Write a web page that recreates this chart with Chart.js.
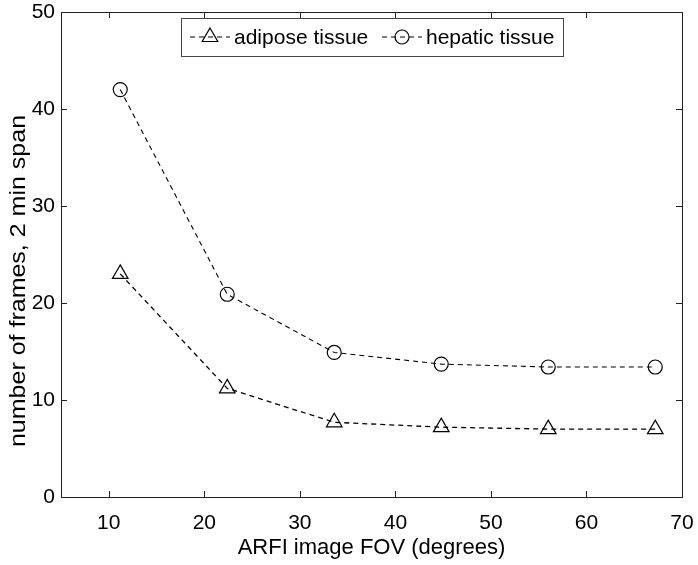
<!DOCTYPE html>
<html>
<head>
<meta charset="utf-8">
<script src="https://cdn.jsdelivr.net/npm/chart.js@4.4.0/dist/chart.umd.min.js"></script>
<style>
  html, body { margin: 0; padding: 0; background: #fff; }
  #wrap { width: 698px; height: 565px; }
</style>
</head>
<body>
<div id="wrap"><canvas id="fovChart" width="698" height="565"></canvas></div>
<script>
// values
var fovDegrees = [11.2, 22.4, 33.6, 44.8, 56.0, 67.2];
var adiposeFrames = [23.0, 11.2, 7.7, 7.2, 7.0, 7.0];
var hepaticFrames = [42.0, 20.9, 14.9, 13.7, 13.4, 13.4];
var seriesNames = ['adipose tissue', 'hepatic tissue'];
var xTicks = [10, 20, 30, 40, 50, 60, 70];
var yTicks = [0, 10, 20, 30, 40, 50];
var xTitle = 'ARFI image FOV (degrees)';
var yTitle = 'number of frames, 2 min span';

var FONT = 'Liberation Sans, Arial, Helvetica, sans-serif';

function toPoints(xs, ys) {
  var pts = [];
  for (var i = 0; i < xs.length; i++) pts.push({x: xs[i], y: ys[i]});
  return pts;
}

// matlab style box with inward ticks, y label and legend inside the axes
var matlabFrame = {
  id: 'matlabFrame',
  afterDatasetsDraw: function(chart) {
    var ctx = chart.ctx, a = chart.chartArea;
    var xs = chart.scales.x, ys = chart.scales.y;
    ctx.save();
    ctx.strokeStyle = '#222';
    ctx.lineWidth = 1;
    ctx.strokeRect(a.left + 0.5, a.top + 0.5, a.right - a.left, a.bottom - a.top);
    var t = 6;
    ctx.beginPath();
    xTicks.forEach(function(v) {
      var px = Math.round(xs.getPixelForValue(v)) + 0.5;
      ctx.moveTo(px, a.bottom); ctx.lineTo(px, a.bottom - t);
      ctx.moveTo(px, a.top); ctx.lineTo(px, a.top + t);
    });
    yTicks.forEach(function(v) {
      var py = Math.round(ys.getPixelForValue(v)) + 0.5;
      ctx.moveTo(a.left, py); ctx.lineTo(a.left + t, py);
      ctx.moveTo(a.right, py); ctx.lineTo(a.right - t, py);
    });
    ctx.stroke();

    // y label (figure is a bit stretched vertically, so squash the thickness)
    ctx.save();
    ctx.translate(19, 281);
    ctx.rotate(-Math.PI / 2);
    ctx.scale(1, 0.87);
    ctx.fillStyle = '#000';
    ctx.font = '25px ' + FONT;
    ctx.textAlign = 'center';
    ctx.textBaseline = 'middle';
    ctx.fillText(yTitle, 0, 0);
    ctx.restore();

    // legend
    var bx = 181, by = 18, bw = 382, bh = 38;
    ctx.fillStyle = '#fff';
    ctx.fillRect(bx, by, bw, bh);
    ctx.strokeStyle = '#444';
    ctx.strokeRect(bx + 0.5, by + 0.5, bw, bh);
    ctx.font = '21px ' + FONT;
    ctx.textBaseline = 'middle';
    var cy = by + bh / 2;
    var starts = [190, 382];
    chart.data.datasets.forEach(function(ds, i) {
      var sx = starts[i];
      ctx.strokeStyle = '#000';
      ctx.lineWidth = 1.2;
      ctx.setLineDash([5, 4]);
      ctx.beginPath();
      ctx.moveTo(sx, cy); ctx.lineTo(sx + 40, cy);
      ctx.stroke();
      ctx.setLineDash([]);
      ctx.fillStyle = 'rgba(255,255,255,0)';
      Chart.helpers.drawPoint(ctx, {
        pointStyle: ds.pointStyle, radius: ds.pointRadius, borderWidth: 1.2
      }, sx + 20, cy);
      ctx.fillStyle = '#000';
      ctx.fillText(ds.label, sx + 44, cy + 1);
    });
    ctx.restore();
  }
};

new Chart(document.getElementById('fovChart'), {
  type: 'line',
  data: {
    datasets: [{
      label: seriesNames[0],
      data: toPoints(fovDegrees, adiposeFrames),
      borderColor: '#000',
      borderWidth: 1.3,
      borderDash: [5, 4],
      pointStyle: 'triangle',
      pointRadius: 9,
      pointBorderWidth: 1.2,
      pointBorderColor: '#000',
      pointBackgroundColor: 'rgba(255,255,255,0)',
      tension: 0
    }, {
      label: seriesNames[1],
      data: toPoints(fovDegrees, hepaticFrames),
      borderColor: '#000',
      borderWidth: 1.1,
      borderDash: [5, 4],
      pointStyle: 'circle',
      pointRadius: 7,
      pointBorderWidth: 1.2,
      pointBorderColor: '#000',
      pointBackgroundColor: 'rgba(255,255,255,0)',
      tension: 0
    }]
  },
  options: {
    responsive: false,
    animation: false,
    layout: { padding: { top: 12, right: 16, left: 0, bottom: 0 } },
    plugins: {
      legend: { display: false },
      tooltip: { enabled: false }
    },
    scales: {
      x: {
        type: 'linear',
        min: 5, max: 70,
        afterBuildTicks: function(s) { s.ticks = xTicks.map(function(v) { return {value: v}; }); },
        afterFit: function(s) { s.height = 68; s.paddingRight = 0; s.paddingLeft = 0; },
        grid: { display: false, drawTicks: false },
        border: { display: false },
        ticks: { color: '#000', font: { family: FONT, size: 21 }, padding: 14, maxRotation: 0 },
        title: { display: true, text: xTitle, color: '#000',
                 font: { family: FONT, size: 22, lineHeight: 1.2 }, padding: { top: 0, bottom: 4 } }
      },
      y: {
        min: 0, max: 50,
        afterBuildTicks: function(s) { s.ticks = yTicks.map(function(v) { return {value: v}; }); },
        afterFit: function(s) { s.width = 61; s.paddingTop = 0; s.paddingBottom = 0; },
        grid: { display: false, drawTicks: false },
        border: { display: false },
        ticks: { color: '#000', font: { family: FONT, size: 21 }, padding: 6 },
        title: { display: false }
      }
    }
  },
  plugins: [matlabFrame]
});
</script>
</body>
</html>
